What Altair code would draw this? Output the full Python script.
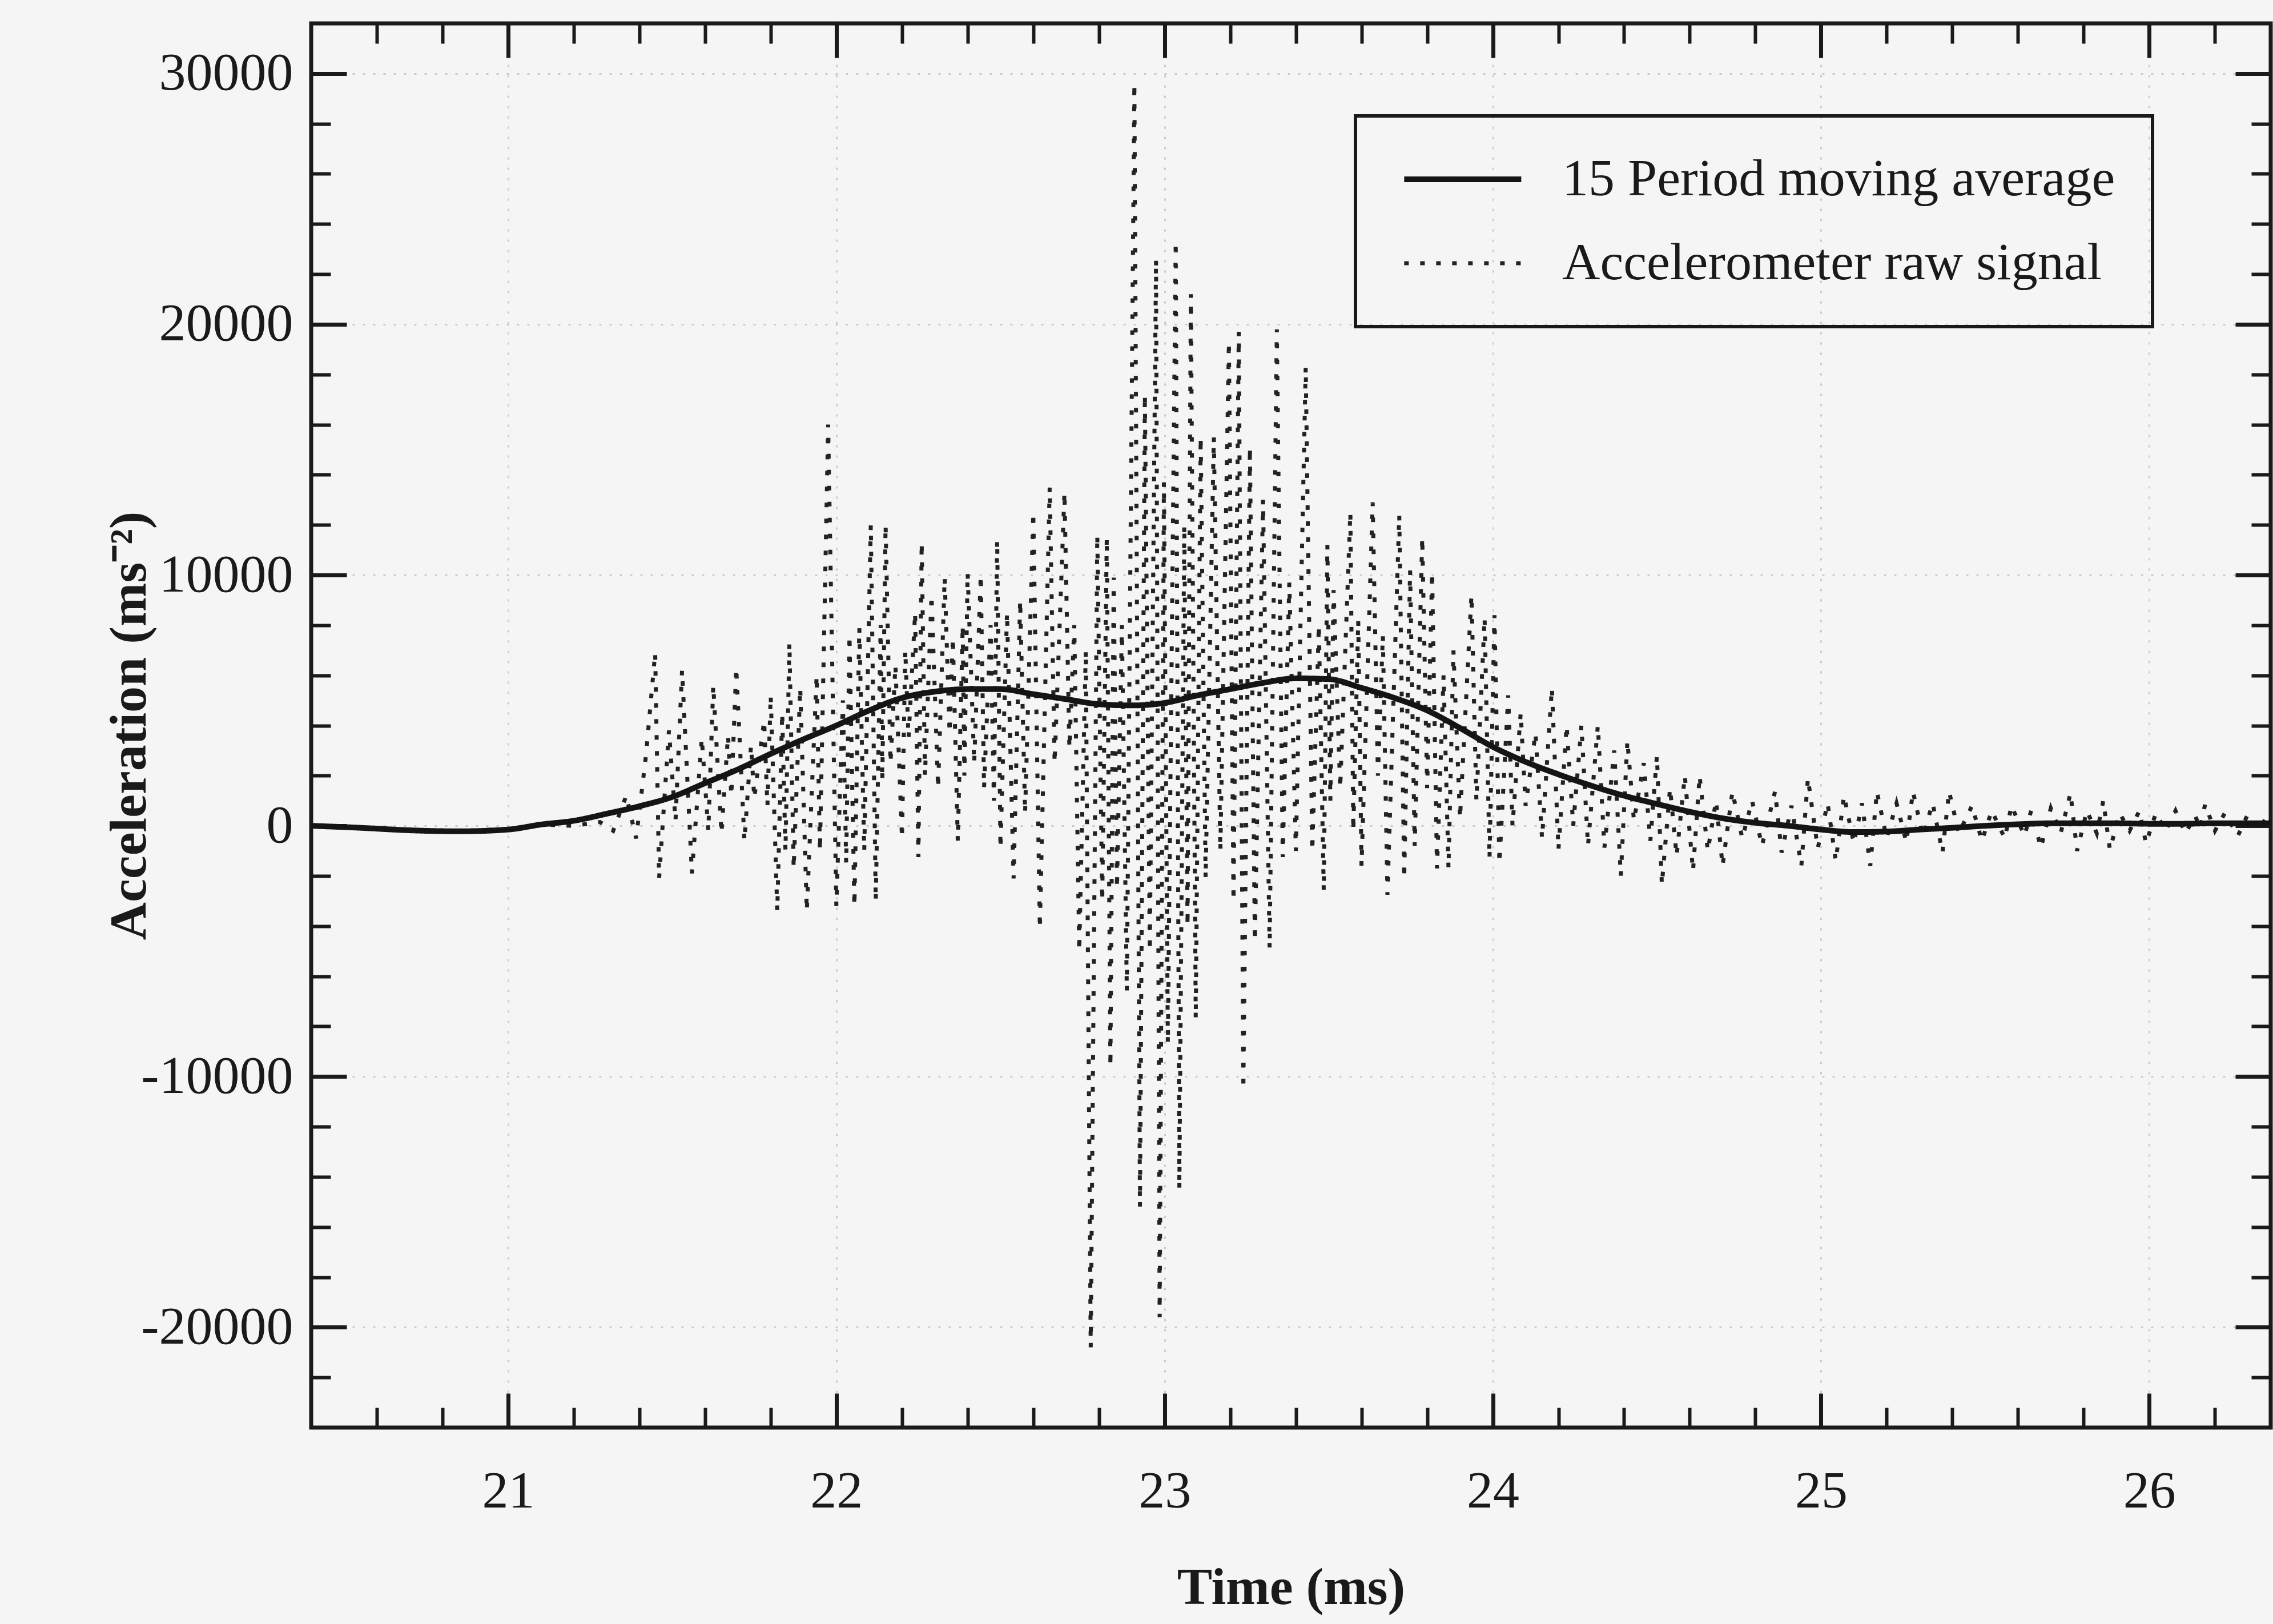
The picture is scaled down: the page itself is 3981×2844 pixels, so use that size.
import altair as alt
import pandas as pd

MA = "15 Period moving average"
RAW = "Accelerometer raw signal"

# 15 period moving average (time in ms, acceleration in m/s^2)
ma_t = [20.40, 20.55, 20.70, 20.85,
        21.00, 21.10, 21.20, 21.30, 21.40, 21.50, 21.60, 21.70, 21.80, 21.90,
        22.00, 22.10, 22.20, 22.30, 22.40, 22.50, 22.60, 22.70, 22.80, 22.90,
        23.00, 23.10, 23.20, 23.30, 23.40, 23.50, 23.60, 23.70, 23.80, 23.90,
        24.00, 24.10, 24.20, 24.30, 24.40, 24.50, 24.60, 24.70, 24.80, 24.90,
        25.00, 25.10, 25.20, 25.30, 25.40, 25.50, 25.60, 25.70, 25.80, 25.90,
        26.00, 26.10, 26.20, 26.30, 26.40]
ma_v = [0, -80, -180, -220,
        -150, 50, 200, 480, 780, 1150, 1700, 2250, 2870, 3450,
        4000, 4600, 5100, 5350, 5450, 5450, 5250, 5050, 4850, 4800,
        4900, 5200, 5450, 5700, 5880, 5850, 5500, 5100, 4600, 3900,
        3150, 2550, 2050, 1600, 1200, 870, 560, 300, 120, 0,
        -150, -250, -230, -150, -80, 0, 60, 100, 100, 100,
        80, 80, 100, 100, 100]

# accelerometer raw signal: successive peaks and troughs
raw_t = [20.40, 20.55, 20.70, 20.85, 21.00, 21.10, 21.20, 21.28, 21.32, 21.36,
         21.39, 21.42, 21.448, 21.46, 21.49, 21.51, 21.53, 21.56, 21.59, 21.61,
         21.625, 21.65, 21.67, 21.68, 21.695, 21.72, 21.74, 21.75, 21.78, 21.79,
         21.80, 21.82, 21.835, 21.845, 21.857, 21.87, 21.89, 21.91, 21.94, 21.95,
         21.975, 22.00, 22.02, 22.03, 22.04, 22.055, 22.07, 22.085, 22.105, 22.12,
         22.135, 22.14, 22.15, 22.165, 22.18, 22.20, 22.21, 22.22, 22.24, 22.25,
         22.26, 22.27, 22.29, 22.31, 22.33, 22.345, 22.355, 22.37, 22.385, 22.39,
         22.40, 22.42, 22.44, 22.45, 22.47, 22.48, 22.49, 22.50, 22.52, 22.54,
         22.56, 22.575, 22.60, 22.62, 22.65, 22.665, 22.695, 22.71, 22.725, 22.74,
         22.76, 22.775, 22.795, 22.81, 22.824, 22.835, 22.845, 22.855, 22.87, 22.885,
         22.908, 22.925, 22.94, 22.955, 22.974, 22.985, 22.998, 23.01, 23.034, 23.045,
         23.06, 23.07, 23.08, 23.095, 23.11, 23.125, 23.15, 23.17, 23.196, 23.21,
         23.226, 23.24, 23.26, 23.275, 23.30, 23.32, 23.342, 23.36, 23.38, 23.40,
         23.43, 23.45, 23.47, 23.485, 23.496, 23.505, 23.515, 23.535, 23.566, 23.575,
         23.59, 23.60, 23.634, 23.65, 23.665, 23.679, 23.715, 23.73, 23.748, 23.762,
         23.785, 23.80, 23.815, 23.83, 23.85, 23.865, 23.88, 23.90, 23.935, 23.95,
         23.975, 23.99, 24.005, 24.02, 24.047, 24.06, 24.085, 24.10, 24.13, 24.15,
         24.18, 24.20, 24.225, 24.245, 24.27, 24.29, 24.32, 24.34, 24.37, 24.39,
         24.41, 24.43, 24.46, 24.48, 24.50, 24.515, 24.54, 24.56, 24.585, 24.61,
         24.63, 24.655, 24.68, 24.70, 24.73, 24.76, 24.79, 24.82, 24.86, 24.88,
         24.91, 24.94, 24.96, 24.99, 25.02, 25.045, 25.07, 25.10, 25.125, 25.15,
         25.17, 25.20, 25.23, 25.26, 25.28, 25.31, 25.34, 25.37, 25.39, 25.42,
         25.46, 25.49, 25.52, 25.56, 25.58, 25.62, 25.64, 25.67, 25.70, 25.73,
         25.76, 25.78, 25.81, 25.84, 25.86, 25.88, 25.91, 25.94, 25.97, 25.99,
         26.02, 26.05, 26.08, 26.11, 26.14, 26.155, 26.17, 26.20, 26.23, 26.27,
         26.30, 26.33, 26.36, 26.40]
raw_v = [0, -60, -150, -220, -120, 50, 0, 150, -200, 1200,
         -500, 2800, 6900, -2100, 3800, 200, 6200, -1900, 3500, -200,
         5600, -300, 3600, 1200, 6300, -600, 3200, 1100, 4200, 800,
         5200, -3400, 4500, -1000, 7300, -1700, 5500, -3400, 6000, -1000,
         16000, -3200, 5000, -1500, 7600, -3200, 7900, -1000, 12000, -3000,
         8000, 1800, 12000, 2500, 6400, -500, 7000, 3500, 8500, -1250,
         11300, 2000, 9200, 1500, 9900, 3700, 7500, -600, 8000, 2000,
         10100, 2500, 10000, 1500, 8000, 1000, 11400, -900, 8500, -2100,
         9000, 500, 12500, -4100, 13500, 2500, 13300, 3100, 8000, -5000,
         7000, -20800, 11600, -3000, 11500, -9600, 9900, -2500, 8000, -6600,
         29600, -15200, 17200, -5000, 22600, -19600, 13700, -8700, 23300, -14500,
         12000, -4000, 21200, -7700, 15500, -2100, 15500, -1000, 19300, -3000,
         19700, -10500, 15100, -4600, 13000, -4900, 19800, -1250, 9700, -1000,
         18300, -1000, 8000, -2600, 11200, 1000, 9400, 1500, 12500, -200,
         8200, -1600, 12900, 2000, 7600, -2750, 12400, -2100, 10200, -800,
         11500, 1500, 10100, -1700, 6000, -1700, 7000, 300, 9200, 1000,
         8300, -1300, 8400, -1500, 5200, 0, 4500, 800, 3700, -500,
         5500, -950, 4000, 0, 4000, -800, 4000, -870, 3000, -2000,
         3400, 200, 2500, -600, 2800, -2350, 1500, -1200, 2000, -1800,
         2000, -1000, 1000, -1600, 1370, -500, 1000, -800, 1370, -1070,
         800, -1600, 1900, -900, 900, -1400, 1200, -700, 900, -1600,
         1370, -500, 900, -660, 1370, -400, 900, -1070, 1370, -300,
         800, -600, 600, -500, 800, -400, 600, -870, 700, -300,
         1300, -1000, 600, -300, 1000, -950, 500, -200, 600, -700,
         500, -200, 600, -300, 400, -100, 850, -200, 500, -400,
         450, -150, 350, 0]

x_major = [21, 22, 23, 24, 25, 26]
x_minor = [20.6, 20.8, 21.2, 21.4, 21.6, 21.8, 22.2, 22.4, 22.6, 22.8,
           23.2, 23.4, 23.6, 23.8, 24.2, 24.4, 24.6, 24.8, 25.2, 25.4,
           25.6, 25.8, 26.2]
y_major = [-20000, -10000, 0, 10000, 20000, 30000]
y_minor = [-22000, -18000, -16000, -14000, -12000, -8000, -6000, -4000, -2000,
           2000, 4000, 6000, 8000, 12000, 14000, 16000, 18000,
           22000, 24000, 26000, 28000]

X_DOMAIN = [20.4, 26.37]
Y_DOMAIN = [-24000, 32000]

ma_df = pd.DataFrame({"t": ma_t, "v": ma_v, "series": MA})
raw_df = pd.DataFrame({"t": raw_t, "v": raw_v, "series": RAW})

FONT = "Liberation Serif"
INK = "#1a1a1a"

xs = alt.Scale(domain=X_DOMAIN, nice=False, zero=False)
ys = alt.Scale(domain=Y_DOMAIN, nice=False, zero=False)
series_domain = [MA, RAW]

color_enc = alt.Color("series:N",
                      scale=alt.Scale(domain=series_domain, range=["#141414", "#222222"]),
                      legend=alt.Legend(title=None))
dash_enc = alt.StrokeDash("series:N",
                          scale=alt.Scale(domain=series_domain, range=[[1, 0], [8, 20]]),
                          legend=alt.Legend(title=None))
width_enc = alt.StrokeWidth("series:N",
                            scale=alt.Scale(domain=series_domain, range=[10, 7]),
                            legend=alt.Legend(title=None))

grid_kw = dict(grid=True, gridColor="#9a9a9a", gridDash=[4, 14], gridWidth=3, gridOpacity=0.45)

label_x_axis = alt.Axis(values=x_major, ticks=False, domain=False, format="d",
                        labelFont=FONT, labelFontSize=92, labelColor=INK, labelPadding=66,
                        labelLimit=1000,
                        title="Time (ms)", titleFont=FONT, titleFontSize=92,
                        titleFontWeight="bold", titleColor=INK, titlePadding=78, **grid_kw)
label_y_axis = alt.Axis(values=y_major, ticks=False, domain=False,
                        labelExpr="datum.value < 0 ? '-' + abs(datum.value) : '' + datum.value",
                        labelFont=FONT, labelFontSize=94, labelColor=INK, labelPadding=32,
                        labelLimit=1000,
                        title="Acceleration (ms⁻²)", titleFont=FONT, titleFontSize=92,
                        titleFontWeight="bold", titleColor=INK, titlePadding=72, **grid_kw)


def tick_axis(values, orient, size, width):
    return alt.Axis(values=values, orient=orient, offset=-size, tickSize=size,
                    tickWidth=width, tickColor=INK, labels=False, domain=False,
                    grid=False, title=None)


def tick_layer(xaxis, yaxis):
    return alt.Chart(ma_df).mark_line(opacity=0).encode(
        x=alt.X("t:Q", scale=xs, axis=xaxis),
        y=alt.Y("v:Q", scale=ys, axis=yaxis),
    )


raw_layer = alt.Chart(raw_df).mark_line(clip=True, strokeCap="butt").encode(
    x=alt.X("t:Q", scale=xs, axis=label_x_axis),
    y=alt.Y("v:Q", scale=ys, axis=label_y_axis),
    color=color_enc, strokeDash=dash_enc, strokeWidth=width_enc,
)
ma_layer = alt.Chart(ma_df).mark_line(clip=True, interpolate="monotone").encode(
    x=alt.X("t:Q", scale=xs, axis=None),
    y=alt.Y("v:Q", scale=ys, axis=None),
    color=color_enc, strokeDash=dash_enc, strokeWidth=width_enc,
)

t1 = tick_layer(tick_axis(x_major, "bottom", 60, 7), tick_axis(y_major, "left", 62, 7))
t2 = tick_layer(tick_axis(x_minor, "bottom", 35, 6), tick_axis(y_minor, "left", 34, 6))
t3 = tick_layer(tick_axis(x_major, "top", 60, 7), tick_axis(y_major, "right", 62, 7))
t4 = tick_layer(tick_axis(x_minor, "top", 35, 6), tick_axis(y_minor, "right", 34, 6))

chart = alt.layer(raw_layer, ma_layer, t1, t2, t3, t4).resolve_axis(
    x="independent", y="independent"
).properties(
    width=3432, height=2459,
    autosize=alt.AutoSizeParams(type="none"),
    padding={"left": 545, "top": 41, "right": 4, "bottom": 344},
    background="#f5f5f5",
).configure_view(
    stroke=INK, strokeWidth=7,
).configure_legend(
    orient="none", legendX=1829, legendY=162,
    padding=65, rowPadding=55,
    strokeColor=INK, strokeWidth=6,
    labelFont=FONT, labelFontSize=92, labelColor=INK, labelOffset=205, labelLimit=2000,
    symbolType="M-1,0H7", symbolSize=2627,
)

chart.save("out.html", embed_options={"renderer": "svg", "actions": False})
